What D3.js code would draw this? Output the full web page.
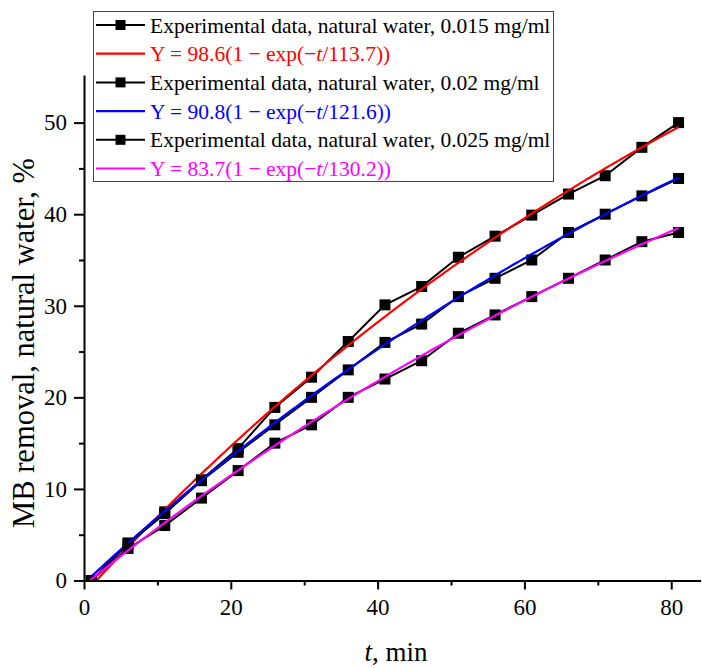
<!DOCTYPE html>
<html>
<head>
<meta charset="utf-8">
<script src="https://cdn.jsdelivr.net/npm/d3@7"></script>
<style>
  html, body { margin: 0; padding: 0; background: #fff; }
  svg { display: block; }
  text { font-family: "Liberation Serif", "Times New Roman", serif; fill: #000; }
</style>
</head>
<body>
<svg id="chart" width="702" height="668"></svg>
<script>
// Sampling times, min
const times = [1, 6, 11, 16, 21, 26, 31, 36, 41, 46, 51, 56, 61, 66, 71, 76, 81];

// MB removal in natural water, %, for each initial dose
const removal015 = [0, 4.1, 7.5, 11.0, 14.4, 18.9, 22.2, 26.1, 30.1, 32.1, 35.3, 37.6, 39.9, 42.2, 44.2, 47.3, 50.0];
const removal020 = [0, 4.0, 7.3, 10.9, 14.0, 17.0, 20.0, 23.0, 26.0, 28.0, 31.0, 33.0, 35.0, 38.0, 40.0, 42.0, 43.9];
const removal025 = [0, 3.5, 6.0, 9.0, 12.0, 15.0, 17.0, 20.0, 22.0, 24.0, 27.0, 29.0, 31.0, 33.0, 35.0, 37.0, 38.0];

// First-order fit parameters: Y = A(1 - exp(-t/tau))
const fitA = [98.6, 90.8, 83.7];
const fitTau = [113.7, 121.6, 130.2];
const fitStart = [1.7, 0.4, 0.8];   // time at which each fitted curve leaves zero
const fitEnd = 81;
const fitColors = ["#ff0000", "#0000ff", "#ff00ff"];

const doseLabels = ["0.015 mg/ml", "0.02 mg/ml", "0.025 mg/ml"];

const xTicks = [0, 20, 40, 60, 80];
const xMinor = [10, 30, 50, 70];
const yTicks = [0, 10, 20, 30, 40, 50];
const yMinor = [5, 15, 25, 35, 45];

const series = [removal015, removal020, removal025];

const svg = d3.select("#chart");

const x = d3.scaleLinear().domain([0, 84]).range([84, 700.6]);
const y = d3.scaleLinear().domain([0, 55.2]).range([580.5, 75]);

// Clip marks to the plotting area
svg.append("defs").append("clipPath").attr("id", "plotArea")
  .append("rect")
  .attr("x", x(0)).attr("y", y(55.2))
  .attr("width", x(84) - x(0)).attr("height", y(0) - y(55.2));

const plot = svg.append("g").attr("clip-path", "url(#plotArea)");

const dataLine = d3.line().x(d => x(d[0])).y(d => y(d[1]));

series.forEach((vals, i) => {
  const pts = times.map((t, j) => [t, vals[j]]);
  // experimental data: black line with square markers
  plot.append("path")
    .datum(pts)
    .attr("d", dataLine)
    .attr("fill", "none")
    .attr("stroke", "#000")
    .attr("stroke-width", 2);
  plot.append("g")
    .selectAll("rect")
    .data(pts)
    .join("rect")
    .attr("x", d => x(d[0]) - 5.5)
    .attr("y", d => y(d[1]) - 5.5)
    .attr("width", 11)
    .attr("height", 11)
    .attr("fill", "#000");

  // fitted curve
  const A = fitA[i], tau = fitTau[i], t0 = fitStart[i];
  const fitPts = d3.range(t0, fitEnd + 0.001, 0.5).concat([fitEnd])
    .map(t => [t, A * (1 - Math.exp(-(t - t0) / tau))]);
  plot.append("path")
    .datum(fitPts)
    .attr("d", dataLine)
    .attr("fill", "none")
    .attr("stroke", fitColors[i])
    .attr("stroke-width", 2.2);
});

// Axes
const axisStyle = g => {
  g.attr("font-family", null).attr("font-size", null);
  g.select(".domain").attr("stroke", "#000").attr("stroke-width", 2);
  g.selectAll(".tick line").attr("stroke", "#000").attr("stroke-width", 2);
  g.selectAll(".tick text")
    .style("font-size", "23px")
    .attr("fill", "#000");
};

svg.append("g")
  .attr("transform", `translate(0,${y(0)})`)
  .call(d3.axisBottom(x).tickValues(xMinor).tickSize(5).tickFormat(""))
  .call(g => g.select(".domain").remove())
  .call(g => g.selectAll(".tick line").attr("stroke", "#000").attr("stroke-width", 2));

svg.append("g")
  .attr("transform", `translate(0,${y(0)})`)
  .call(d3.axisBottom(x).tickValues(xTicks).tickSize(9).tickSizeOuter(0).tickPadding(9).tickFormat(d3.format("d")))
  .call(axisStyle);

svg.append("g")
  .attr("transform", `translate(${x(0)},0)`)
  .call(d3.axisLeft(y).tickValues(yMinor).tickSize(5).tickFormat(""))
  .call(g => g.select(".domain").remove())
  .call(g => g.selectAll(".tick line").attr("stroke", "#000").attr("stroke-width", 2));

svg.append("g")
  .attr("transform", `translate(${x(0)},0)`)
  .call(d3.axisLeft(y).tickValues(yTicks).tickSize(10).tickSizeOuter(0).tickPadding(7).tickFormat(d3.format("d")))
  .call(axisStyle);

// Axis titles
const xTitle = svg.append("text")
  .attr("x", 396).attr("y", 661)
  .attr("text-anchor", "middle")
  .style("font-size", "27px");
xTitle.append("tspan").style("font-style", "italic").text("t");
xTitle.append("tspan").text(", min");

svg.append("text")
  .attr("transform", "translate(34,343) rotate(-90)")
  .attr("text-anchor", "middle")
  .style("font-size", "30.5px")
  .text("MB removal, natural water, %");

// Legend
const legend = svg.append("g");
legend.append("rect")
  .attr("x", 93.5).attr("y", 11.5)
  .attr("width", 460).attr("height", 170)
  .attr("fill", "#fff")
  .attr("stroke", "#444")
  .attr("stroke-width", 1);

const rowY = i => 25 + i * 28.7;
fitA.forEach((A, i) => {
  const yd = rowY(2 * i), yf = rowY(2 * i + 1);
  legend.append("line")
    .attr("x1", 96).attr("x2", 145).attr("y1", yd).attr("y2", yd)
    .attr("stroke", "#000").attr("stroke-width", 2);
  legend.append("rect")
    .attr("x", 120.5 - 5).attr("y", yd - 5)
    .attr("width", 10).attr("height", 10)
    .attr("fill", "#000");
  legend.append("text")
    .attr("x", 150).attr("y", yd + 7.5)
    .style("font-size", "21.5px")
    .text(`Experimental data, natural water, ${doseLabels[i]}`);

  legend.append("line")
    .attr("x1", 96).attr("x2", 145).attr("y1", yf).attr("y2", yf)
    .attr("stroke", fitColors[i]).attr("stroke-width", 2.2);
  const ft = legend.append("text")
    .attr("x", 150).attr("y", yf + 7.5)
    .style("font-size", "21.5px")
    .style("fill", fitColors[i]);
  ft.append("tspan").text(`Y = ${A}(1 − exp(−`);
  ft.append("tspan").style("font-style", "italic").text("t");
  ft.append("tspan").text(`/${fitTau[i]}))`);
});
</script>
</body>
</html>
